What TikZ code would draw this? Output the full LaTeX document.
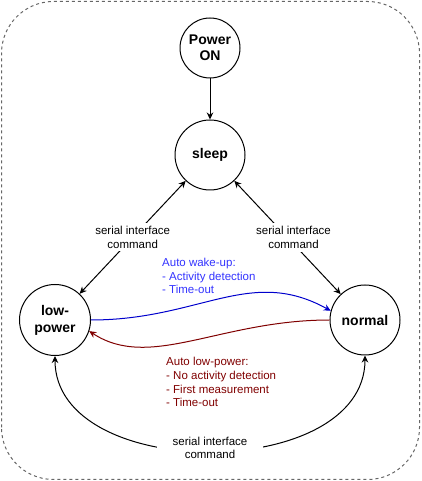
\documentclass[tikz,border=0pt]{standalone}
\usepackage{fontspec}
\setmainfont{Liberation Sans}
\usetikzlibrary{arrows.meta}
\definecolor{wakeline}{RGB}{0,0,204}
\definecolor{waketext}{RGB}{51,51,255}
\definecolor{lowred}{RGB}{128,0,0}

\begin{document}
\begin{tikzpicture}[x=1pt,y=1pt,
  state/.style={circle,draw,line width=1pt,minimum size=70pt,inner sep=0pt,
    align=center,font=\fontsize{14}{17}\selectfont\bfseries},
  cmd/.style={fill=white,align=center,inner sep=3pt,
    font=\fontsize{11.5}{13.7}\selectfont},
  note/.style={anchor=west,align=left,inner sep=0pt,
    font=\fontsize{11.5}{13.7}\selectfont},
  arr/.style={line width=1pt,-{Stealth[length=7pt,width=6.5pt]}},
  dbl/.style={line width=1pt,{Stealth[length=7pt,width=6.5pt]}-{Stealth[length=7pt,width=6.5pt]}}]
\useasboundingbox (0,0) rectangle (421,481);
\draw[black!60,line width=1pt,dash pattern=on 3pt off 3pt,rounded corners=52pt]
  (1.5,1.5) rectangle (419.5,479.5);

\node[state,minimum size=60pt,font=\fontsize{14}{16.5}\selectfont\bfseries] (P) at (210,433) {Power\\ON};
\node[state] (S) at (210,326) {sleep};
\node[state,minimum size=71pt] (L) at ( 55,161) {low-\\power};
\node[state] (N) at (365,161) {normal};

\path[arr] (P) edge (S);
\path[dbl] (L) edge node[cmd] {serial interface\\command} (S);
\path[dbl] (S) edge node[cmd,xshift=6pt] {serial interface\\command} (N);

% automatic transitions
\draw[arr,wakeline] (L.east) .. controls (200,161) and (250,215) .. (N.165);
\draw[arr,lowred] (N.west) .. controls (220,161) and (150,110) .. (L.-18);
\node[note,text=waketext] (wake) at (162,205) {Auto wake-up:\\- Activity detection\\- Time-out};
\node[note,text=lowred] (lowp) at (166,98.7) {Auto low-power:\\- No activity detection\\- First measurement\\- Time-out};

\draw[dbl] (L.south) to[out=-90,in=-90,looseness=1.05]
  node[cmd,inner xsep=16pt,yshift=3pt] {serial interface\\command} (N.south);
\end{tikzpicture}
\end{document}
